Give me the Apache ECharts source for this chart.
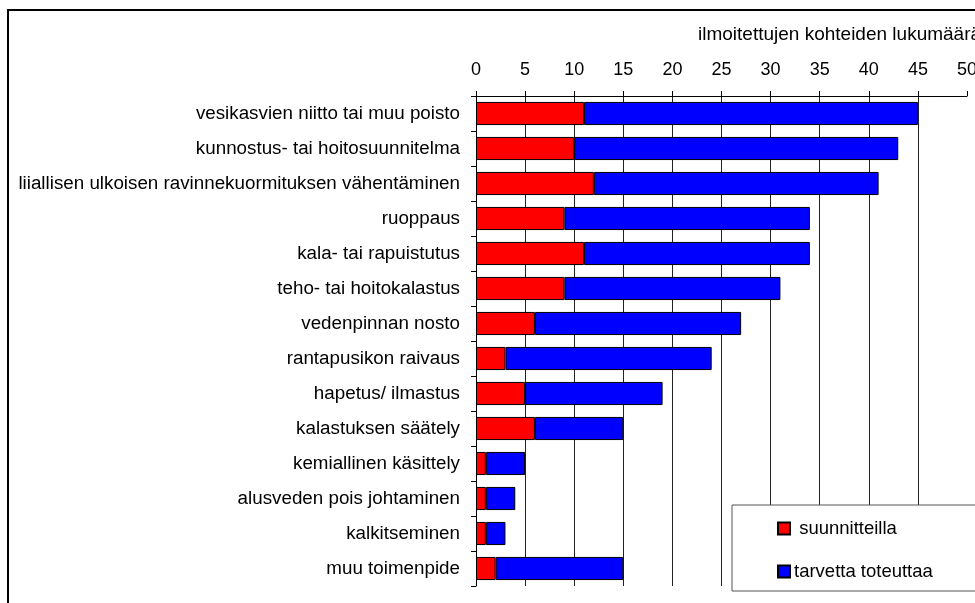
<!DOCTYPE html>
<html>
<head>
<meta charset="utf-8">
<script src="https://cdn.jsdelivr.net/npm/echarts@6/dist/echarts.min.js"></script>
<style>
  html, body { margin: 0; padding: 0; background: #fff; }
  #chart { width: 975px; height: 603px; }
</style>
</head>
<body>
<div id="chart"></div>
<script>
const categories = [
    'vesikasvien niitto tai muu poisto',
    'kunnostus- tai hoitosuunnitelma',
    'liiallisen ulkoisen ravinnekuormituksen vähentäminen',
    'ruoppaus',
    'kala- tai rapuistutus',
    'teho- tai hoitokalastus',
    'vedenpinnan nosto',
    'rantapusikon raivaus',
    'hapetus/ ilmastus',
    'kalastuksen säätely',
    'kemiallinen käsittely',
    'alusveden pois johtaminen',
    'kalkitseminen',
    'muu toimenpide'
];
const suunnitteilla = [11, 10, 12, 9, 11, 9, 6, 3, 5, 6, 1, 1, 1, 2];
const tarvettaToteuttaa = [34, 33, 29, 25, 23, 22, 21, 21, 14, 9, 4, 3, 2, 13];
const seriesNames = ['suunnitteilla', 'tarvetta toteuttaa'];
const axisTitle = 'ilmoitettujen kohteiden lukumäärä';

const font = 'Liberation Sans, Arial, sans-serif';
const chart = echarts.init(document.getElementById('chart'));

chart.setOption({
    animation: false,
    textStyle: { fontFamily: font },
    grid: { left: 476, top: 96, right: 8, bottom: 17, outerBoundsMode: 'none' },
    xAxis: {
        type: 'value',
        position: 'top',
        min: 0, max: 50, interval: 5,
        axisLine: { show: true, lineStyle: { color: '#000' } },
        axisTick: { show: true, length: 5, lineStyle: { color: '#000' } },
        axisLabel: { color: '#000', fontSize: 18, margin: 17 },
        splitLine: { show: true, showMaxLine: false, lineStyle: { color: '#222', width: 1 } }
    },
    yAxis: {
        type: 'category',
        inverse: true,
        data: categories,
        axisLine: { show: true, lineStyle: { color: '#000' } },
        axisTick: { show: true, length: 5, lineStyle: { color: '#000' } },
        axisLabel: { color: '#000', fontSize: 18.8, margin: 16 }
    },
    legend: {
        orient: 'vertical',
        left: 777, top: 519,
        padding: 0,
        itemWidth: 12, itemHeight: 12,
        itemGap: 24,
        icon: 'rect',
        formatter: name => name === seriesNames[0] ? ' ' + name : name,
        textStyle: { color: '#000', fontSize: 18.5, padding: [0, 0, 0, -1] },
        data: seriesNames
    },
    graphic: [
        { type: 'rect', shape: { x: 8, y: 10, width: 980, height: 610 },
          style: { fill: null, stroke: '#000', lineWidth: 2 }, z: 100 },
        { type: 'rect', shape: { x: 732, y: 505, width: 260, height: 86 },
          style: { fill: '#fff', stroke: '#555', lineWidth: 1 }, z: 1 },
        { type: 'text', left: 698, top: 25,
          style: { text: axisTitle, fontSize: 19, fill: '#000', fontFamily: font } }
    ],
    series: [
        {
            name: seriesNames[0], type: 'bar', stack: 'total', barWidth: '66%',
            itemStyle: { color: '#ff0000', borderColor: '#000', borderWidth: 1 },
            data: suunnitteilla
        },
        {
            name: seriesNames[1], type: 'bar', stack: 'total', barWidth: '66%',
            itemStyle: { color: '#0000ff', borderColor: '#000', borderWidth: 1 },
            data: tarvettaToteuttaa
        }
    ]
});
</script>
</body>
</html>
